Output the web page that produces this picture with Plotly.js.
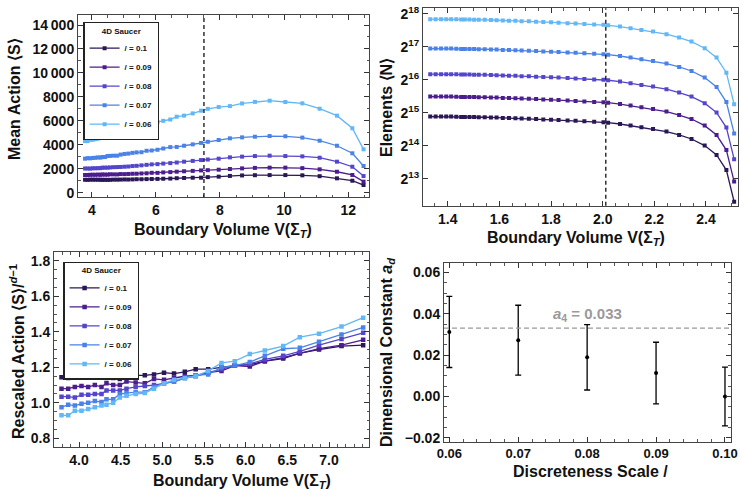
<!DOCTYPE html>
<html><head><meta charset="utf-8">
<script src="https://cdn.plot.ly/plotly-3.0.1.min.js"></script>
<style>html,body{margin:0;padding:0;background:#fff}</style>
</head><body><div id="chart" style="width:742px;height:490px"></div>
<script>
// ---------- data ----------
const seriesNames = ['/ = 0.1','/ = 0.09','/ = 0.08','/ = 0.07','/ = 0.06'];
const seriesColors = ['#2b1756','#4c1d8e','#5446cc','#4a82e8','#62b7f6'];

// Top-left: mean action vs boundary volume
const volTL = [3.79,3.87,3.95,4.03,4.11,4.19,4.27,4.33,4.41,4.49,4.57,4.68,4.79,4.90,5.02,5.14,5.27,5.40,5.55,5.71,5.87,6.05,6.23,6.45,6.65,6.88,7.15,7.41,7.62,7.96,8.31,8.69,9.09,9.55,10.04,10.57,11.11,11.65,12.13,12.48];
const meanS_010 = [1080,1075,1090,1090,1085,1085,1080,1075,1075,1070,1075,1090,1090,1095,1105,1100,1110,1125,1125,1135,1145,1150,1165,1180,1210,1230,1250,1255,1300,1340,1400,1440,1460,1470,1470,1450,1380,1200,1000,640];
const meanS_009 = [1480,1480,1495,1500,1495,1510,1495,1525,1510,1510,1535,1530,1525,1555,1550,1565,1580,1585,1605,1620,1660,1655,1695,1720,1755,1790,1820,1860,1880,1920,1980,2030,2070,2090,2090,2050,1950,1750,1480,920];
const meanS_008 = [2020,2020,2010,2040,2040,2050,2050,2090,2090,2090,2110,2130,2140,2150,2170,2185,2225,2245,2285,2325,2365,2385,2430,2470,2520,2590,2655,2725,2770,2840,2950,3010,3060,3090,3060,3035,2920,2590,2170,1390];
const meanS_007 = [2840,2885,2870,2900,2915,2945,2930,2975,2975,3060,3075,3090,3090,3180,3235,3265,3325,3365,3380,3500,3525,3585,3690,3805,3820,3920,4035,4155,4250,4400,4540,4620,4675,4730,4710,4600,4340,3920,3290,2230];
const meanS_006 = [4305,4305,4420,4420,4470,4515,4560,4585,4630,4770,4815,4860,4885,5000,5140,5230,5280,5325,5465,5670,5720,5905,6000,6110,6345,6435,6620,6850,7000,7150,7230,7450,7580,7680,7570,7460,7010,6430,5380,3620];
const meanTicks = [0,2000,4000,6000,8000,10000,12000,14000];
const meanTickText = ['0','2000','4000','6000','8000','10\u2009000','12\u2009000','14\u2009000'];

// Top-right: elements (log2 N) vs boundary volume axis
const volTR = [1.332,1.353,1.374,1.394,1.413,1.433,1.452,1.466,1.484,1.502,1.520,1.543,1.567,1.589,1.613,1.637,1.662,1.686,1.714,1.742,1.770,1.800,1.829,1.864,1.895,1.929,1.967,2.003,2.021,2.067,2.108,2.150,2.195,2.247,2.296,2.344,2.395,2.441,2.479,2.509];
const log2N_010 = [14.89,14.89,14.89,14.89,14.89,14.885,14.88,14.88,14.88,14.875,14.87,14.87,14.865,14.86,14.85,14.845,14.84,14.83,14.825,14.815,14.805,14.795,14.785,14.77,14.76,14.745,14.73,14.72,14.705,14.665,14.617,14.565,14.514,14.435,14.332,14.211,14.011,13.726,13.271,12.31];
const log2N_009 = [15.495,15.495,15.495,15.495,15.495,15.49,15.485,15.485,15.485,15.48,15.475,15.475,15.47,15.465,15.455,15.45,15.445,15.435,15.43,15.42,15.41,15.40,15.39,15.375,15.365,15.35,15.335,15.325,15.31,15.27,15.222,15.17,15.119,15.04,14.937,14.816,14.616,14.331,13.876,12.92];
const log2N_008 = [16.175,16.175,16.175,16.175,16.175,16.17,16.165,16.165,16.165,16.16,16.155,16.155,16.15,16.145,16.135,16.13,16.125,16.115,16.11,16.10,16.09,16.08,16.07,16.055,16.045,16.03,16.015,16.005,15.99,15.95,15.902,15.85,15.80,15.72,15.617,15.496,15.296,15.011,14.556,13.60];
const log2N_007 = [16.95,16.95,16.95,16.95,16.95,16.945,16.94,16.94,16.94,16.935,16.93,16.93,16.925,16.92,16.91,16.905,16.90,16.89,16.885,16.875,16.865,16.855,16.845,16.83,16.82,16.805,16.79,16.78,16.765,16.725,16.677,16.625,16.574,16.495,16.392,16.271,16.071,15.786,15.331,14.38];
const log2N_006 = [17.84,17.84,17.84,17.84,17.84,17.835,17.83,17.83,17.83,17.825,17.82,17.82,17.815,17.81,17.80,17.795,17.79,17.78,17.775,17.765,17.755,17.745,17.735,17.72,17.71,17.695,17.68,17.67,17.655,17.615,17.567,17.515,17.464,17.385,17.282,17.161,16.961,16.676,16.221,15.264];
const elemTicks = [13,14,15,16,17,18];
const elemTickText = ['2<sup>13</sup>','2<sup>14</sup>','2<sup>15</sup>','2<sup>16</sup>','2<sup>17</sup>','2<sup>18</sup>'];

// Bottom-left: rescaled action
const volBL = [3.79,3.87,3.95,4.03,4.11,4.19,4.27,4.33,4.41,4.49,4.57,4.68,4.79,4.90,5.02,5.14,5.27,5.40,5.55,5.71,5.87,6.05,6.23,6.45,6.65,6.88,7.15,7.41];
const resc_010 = [1.145,1.14,1.155,1.155,1.15,1.15,1.145,1.14,1.14,1.135,1.14,1.155,1.155,1.16,1.17,1.165,1.175,1.19,1.19,1.2,1.21,1.215,1.235,1.25,1.28,1.30,1.32,1.325];
const resc_009 = [1.08,1.08,1.09,1.095,1.09,1.10,1.09,1.11,1.10,1.10,1.12,1.115,1.11,1.135,1.13,1.14,1.15,1.155,1.17,1.18,1.21,1.205,1.235,1.255,1.28,1.305,1.325,1.355];
const resc_008 = [1.035,1.035,1.03,1.045,1.045,1.05,1.05,1.07,1.07,1.07,1.08,1.09,1.095,1.10,1.11,1.12,1.14,1.15,1.17,1.19,1.21,1.22,1.245,1.265,1.29,1.325,1.36,1.395];
const resc_007 = [0.975,0.99,0.985,0.995,1.00,1.01,1.005,1.02,1.02,1.05,1.055,1.06,1.06,1.09,1.11,1.12,1.14,1.155,1.16,1.20,1.21,1.23,1.265,1.305,1.31,1.345,1.385,1.425];
const resc_006 = [0.93,0.93,0.955,0.955,0.965,0.975,0.985,0.99,1.00,1.03,1.04,1.05,1.055,1.08,1.11,1.13,1.14,1.15,1.18,1.225,1.235,1.275,1.295,1.32,1.37,1.39,1.43,1.48];

// Bottom-right: dimensional constant
const scaleL = [0.06,0.07,0.08,0.09,0.10];
const constA = [0.0312,0.0272,0.0189,0.0113,0.0];
const constErr = [0.0172,0.0169,0.0158,0.0149,0.0142];
const refA = 0.033;
const cutTL = 7.5, cutTR = 2.012;

// ---------- traces ----------
const FONT = 'Liberation Sans, Arial, Helvetica, sans-serif';
const meanSets = [meanS_010, meanS_009, meanS_008, meanS_007, meanS_006];
const elemSets = [log2N_010, log2N_009, log2N_008, log2N_007, log2N_006];
const rescSets = [resc_010, resc_009, resc_008, resc_007, resc_006];
const traces = [];
for (let i = 0; i < 5; i++) {
  traces.push({x: volTL, y: meanSets[i], xaxis:'x', yaxis:'y', type:'scatter', mode:'lines+markers',
    name: seriesNames[i], legend:'legend', line:{color:seriesColors[i], width:1.3},
    marker:{symbol:'square', size:4, color:seriesColors[i]}});
}
for (let i = 0; i < 5; i++) {
  traces.push({x: volTR, y: elemSets[i], xaxis:'x2', yaxis:'y2', type:'scatter', mode:'lines+markers',
    name: seriesNames[i], showlegend:false, line:{color:seriesColors[i], width:1.3},
    marker:{symbol:'square', size:4, color:seriesColors[i]}});
}
for (let i = 0; i < 5; i++) {
  traces.push({x: volBL, y: rescSets[i], xaxis:'x3', yaxis:'y3', type:'scatter', mode:'lines+markers',
    name: seriesNames[i], legend:'legend2', line:{color:seriesColors[i], width:1.3},
    marker:{symbol:'square', size:4.5, color:seriesColors[i]}});
}
traces.push({x: scaleL, y: constA, xaxis:'x4', yaxis:'y4', type:'scatter', mode:'markers', showlegend:false,
  marker:{color:'#000', size:4}, error_y:{type:'data', array:constErr, visible:true, color:'#000', thickness:1.3, width:3}});

// ---------- layout ----------
const W = 742, H = 490;
const px = v => v / W, py = v => 1 - v / H;
function ax(extra, fs) {
  return Object.assign({
    showline:true, linecolor:'#444', linewidth:1, mirror:'ticks', ticks:'inside', ticklen:5, tickwidth:1, tickcolor:'#333',
    showgrid:false, zeroline:false, tickfont:{family:FONT, size:fs || 14, weight:'bold', color:'#111'}
  }, extra);
}
function mn(d) { return {dtick:d, ticks:'inside', ticklen:2.5, tickcolor:'#555', showgrid:false}; }
const legendBase = {
  bgcolor:'#fff', bordercolor:'#222', borderwidth:1.3, xanchor:'left', yanchor:'top',
  font:{family:FONT, size:8, weight:'bold', color:'#111'}, itemwidth:30, tracegroupgap:0,
  title:{text:'4D Saucer', side:'top center', font:{family:FONT, size:8, weight:'bold', color:'#111'}}
};
const titleFont = {family:FONT, size:16, weight:'bold', color:'#111'};
function t(text, x, y, angle) {
  return {text, xref:'paper', yref:'paper', x:px(x), y:py(y), xanchor:'center', yanchor:'middle',
    showarrow:false, textangle: angle || 0, font: titleFont};
}
const layout = {
  width: W, height: H, margin:{l:0, r:0, t:0, b:0}, paper_bgcolor:'#fff', plot_bgcolor:'#fff',
  showlegend:true,
  xaxis: ax({anchor:'y', domain:[px(78), px(369)], range:[3.57,12.65], tickvals:[4,6,8,10,12], minor:mn(0.5)}),
  yaxis: ax({anchor:'x', domain:[py(197), py(15)], range:[-359,14835], tickvals:meanTicks, ticktext:meanTickText, minor:mn(1000)}),
  xaxis2: ax({anchor:'y2', domain:[px(423), px(738)], range:[1.304,2.524], dtick:0.2, tick0:0, tickformat:'.1f', minor:mn(0.05)}),
  yaxis2: ax({anchor:'x2', domain:[py(205.7), py(8.3)], range:[12.19,18.17], tickvals:elemTicks, ticktext:elemTickText}),
  xaxis3: ax({anchor:'y3', domain:[px(54), px(369)], range:[3.70,7.48], dtick:0.5, tick0:0, tickformat:'.1f', minor:mn(0.1)}),
  yaxis3: ax({anchor:'x3', domain:[py(446.7), py(252)], range:[0.753,1.85], dtick:0.2, tick0:0, tickformat:'.1f', minor:mn(0.05)}),
  xaxis4: ax({anchor:'y4', domain:[px(444), px(730.7)], range:[0.05923,0.10083], dtick:0.01, tick0:0, tickformat:'.2f', minor:mn(0.002)}, 13),
  yaxis4: ax({anchor:'x4', domain:[py(441.7), py(263.3)], range:[-0.0219,0.0644], dtick:0.02, tick0:0, tickformat:'.2f', minor:mn(0.005)}),
  legend: Object.assign({}, legendBase, {x:px(83.3), y:py(22)}),
  legend2: Object.assign({}, legendBase, {x:px(63.3), y:py(261.7)}),
  shapes: [
    {type:'line', xref:'x', yref:'y domain', x0:cutTL, x1:cutTL, y0:0, y1:1, line:{color:'#111', width:1.3, dash:'4px,3px'}},
    {type:'line', xref:'x2', yref:'y2 domain', x0:cutTR, x1:cutTR, y0:0, y1:1, line:{color:'#111', width:1.3, dash:'4px,3px'}},
    {type:'line', xref:'x4 domain', yref:'y4', x0:0, x1:1, y0:refA, y1:refA, line:{color:'#999', width:1.3, dash:'5px,3px'}}
  ],
  annotations: [
    t('Mean Action \u27E8S\u27E9', 15, 99, -90),
    t('Boundary Volume V(\u03A3<sub><i>T</i></sub>)', 223, 230),
    t('Elements \u27E8N\u27E9', 387, 108, -90),
    t('Boundary Volume V(\u03A3<sub><i>T</i></sub>)', 576, 238),
    t('Rescaled Action \u27E8S\u27E9/<sup><i>d</i>\u22121</sup>', 17, 352, -90),
    t('Boundary Volume V(\u03A3<sub><i>T</i></sub>)', 242, 481),
    t('Dimensional Constant <i>a<sub>d</sub></i>', 387, 352, -90),
    t('Discreteness Scale /', 590, 471),
    {text:'<i>a</i><sub>4</sub> = 0.033', xref:'x4', yref:'y4', x:0.08, y:0.0397, xanchor:'center', yanchor:'middle',
      showarrow:false, font:{family:FONT, size:15, weight:'bold', color:'#9a9a9a'}}
  ]
};
Plotly.newPlot('chart', traces, layout, {staticPlot:true, displayModeBar:false});
</script></body></html>
